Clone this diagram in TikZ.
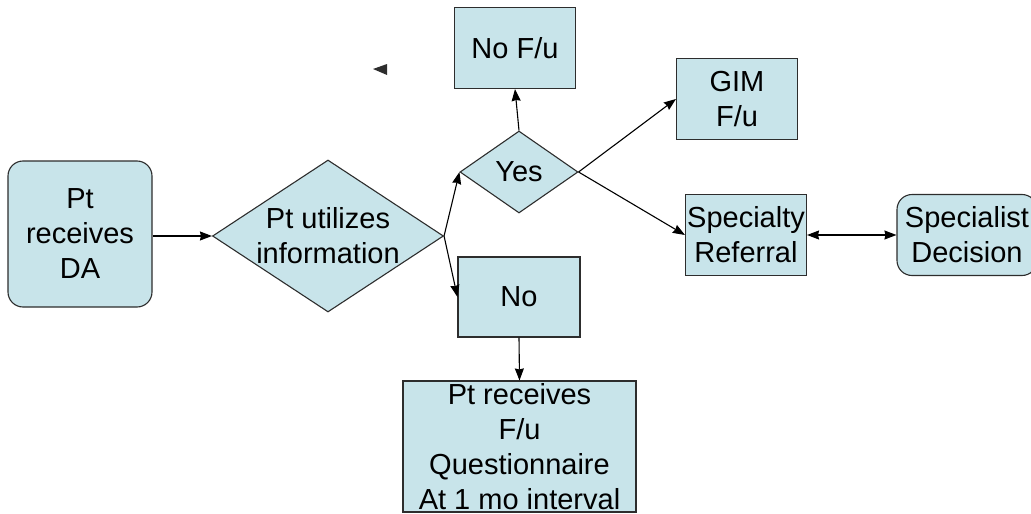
\documentclass[tikz,border=0pt]{standalone}
\usepackage{fontspec}
\setmainfont{Liberation Sans}
\usetikzlibrary{arrows.meta, shapes.geometric, positioning}
\definecolor{boxfill}{RGB}{200,228,234}
\definecolor{boxline}{RGB}{45,45,45}

\begin{document}
\begin{tikzpicture}[x=1pt, y=-1pt, ->, >={Stealth[length=12pt,width=9pt,inset=1pt]}, line width=1.1pt,
	every node/.style={font=\fontsize{29}{35}\selectfont, align=center, inner sep=0pt},
	block/.style={rectangle, draw=boxline, fill=boxfill, minimum width=121pt, minimum height=81pt},
	rblock/.style={block, rounded corners=15pt},
	choice/.style={diamond, draw=boxline, fill=boxfill, shape aspect=1.5}]

		\useasboundingbox (0,0) rectangle (1031,514);
		\clip (0,0) rectangle (1031,514);

		\node[rblock, minimum width=144pt, minimum height=146pt] (da) at (80,234) {Pt\\receives\\DA};
		\node[choice, minimum width=231pt, minimum height=152pt] (util) at (328,236) {Pt utilizes\\information};
		\node[choice, minimum width=118pt, minimum height=82pt] (yes) at (519,172) {Yes};
		\node[block] (nofu) at (515,48) {No F/u};
		\node[block] (gim) at (737,99) {GIM\\F/u};
		\node[block] (ref) at (746,235) {Specialty\\Referral};
		\node[rblock, minimum width=140pt] (dec) at (967,235) {Specialist\\Decision};
		\node[block, minimum width=122pt, minimum height=80pt] (no) at (519,297) {No};
		\node[block, minimum width=233pt, minimum height=131pt] (fu) at (519.5,446.5) {Pt receives\\F/u\\Questionnaire\\At 1 mo interval};

		\path
		(da.east |- util.west) edge (util.west)
		(util.east) edge (yes.west)
				edge (no.west)
		(yes.north) edge (nofu.south)
		(yes.east) edge (gim.west)
				edge (ref.west)
		(no.south) edge (fu.north)
		(ref.east) edge[<->] (dec.west);

		% stray arrow tip left on the slide
		\fill[boxline, -] (373,69) -- (387,64) -- (387,75) -- cycle;

\end{tikzpicture}
\end{document}
